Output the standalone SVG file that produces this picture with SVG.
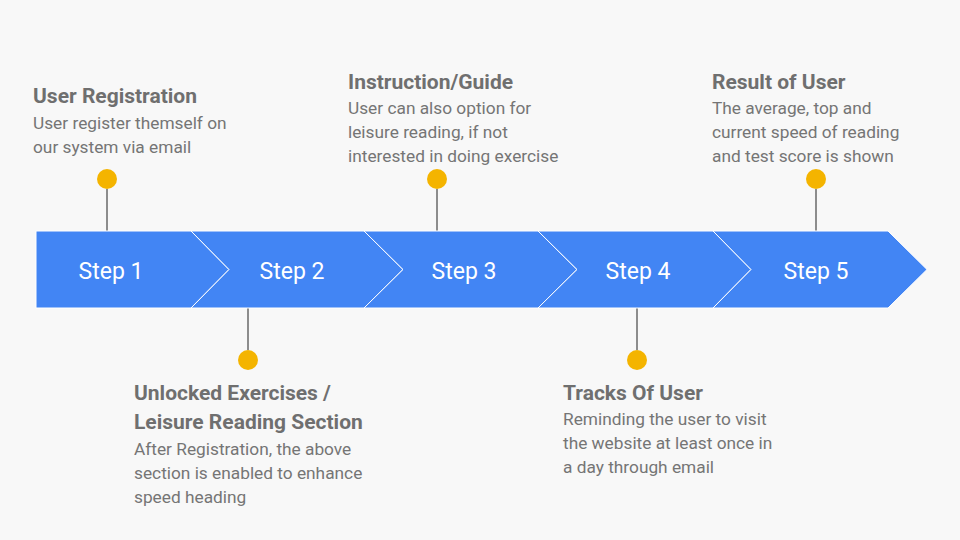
<svg xmlns="http://www.w3.org/2000/svg" width="960" height="540" viewBox="0 0 960 540">
<style>
.bg{fill:#f8f8f8}
.seg{fill:#4285f4;stroke:#ffffff;stroke-width:1}
.step{font-family:Roboto,"Liberation Sans",sans-serif;font-size:23px;fill:#ffffff;text-anchor:middle}
.title{font-family:Roboto,"Liberation Sans",sans-serif;font-size:21px;font-weight:bold;fill:#6f6f6f}
.body{font-family:Roboto,"Liberation Sans",sans-serif;font-size:17.3px;fill:#757575}
.dot{fill:#f4b400}
.conn{stroke:#222222;stroke-width:1;fill:none}
</style>
<rect class="bg" x="0" y="0" width="960" height="540"/>
<g id="connectors">
<line class="conn" x1="107" y1="189" x2="107" y2="231"/>
<line class="conn" x1="248" y1="308" x2="248" y2="350"/>
<line class="conn" x1="437" y1="189" x2="437" y2="231"/>
<line class="conn" x1="637" y1="308" x2="637" y2="350"/>
<line class="conn" x1="816" y1="189" x2="816" y2="231"/>
</g>
<g id="step1">
<polygon class="seg" points="36,231 191,231 229,269.5 191,308 36,308"/>
<text class="step" x="111" y="279">Step 1</text>
</g>
<g id="step2">
<polygon class="seg" points="191,231 364,231 403,269.5 364,308 191,308 229,269.5"/>
<text class="step" x="292" y="279">Step 2</text>
</g>
<g id="step3">
<polygon class="seg" points="364,231 538,231 577,269.5 538,308 364,308 403,269.5"/>
<text class="step" x="464" y="279">Step 3</text>
</g>
<g id="step4">
<polygon class="seg" points="538,231 713,231 751,269.5 713,308 538,308 577,269.5"/>
<text class="step" x="638" y="279">Step 4</text>
</g>
<g id="step5">
<polygon class="seg" points="713,231 888,231 927,269.5 888,308 713,308 751,269.5"/>
<text class="step" x="816" y="279">Step 5</text>
</g>
<g id="info1">
<circle class="dot" cx="107" cy="179" r="10"/>
<text class="title" x="33" y="103">User Registration</text>
<text class="body" x="33" y="129">User register themself on</text>
<text class="body" x="33" y="153">our system via email</text>
</g>
<g id="info2">
<circle class="dot" cx="248" cy="360" r="10"/>
<text class="title" x="134" y="400">Unlocked Exercises /</text>
<text class="title" x="134" y="429">Leisure Reading Section</text>
<text class="body" x="134" y="455">After Registration, the above</text>
<text class="body" x="134" y="479">section is enabled to enhance</text>
<text class="body" x="134" y="503">speed heading</text>
</g>
<g id="info3">
<circle class="dot" cx="437" cy="179" r="10"/>
<text class="title" x="348" y="89">Instruction/Guide</text>
<text class="body" x="348" y="114">User can also option for</text>
<text class="body" x="348" y="138">leisure reading, if not</text>
<text class="body" x="348" y="162">interested in doing exercise</text>
</g>
<g id="info4">
<circle class="dot" cx="637" cy="360" r="10"/>
<text class="title" x="563" y="400">Tracks Of User</text>
<text class="body" x="563" y="425">Reminding the user to visit</text>
<text class="body" x="563" y="449">the website at least once in</text>
<text class="body" x="563" y="473">a day through email</text>
</g>
<g id="info5">
<circle class="dot" cx="816" cy="179" r="10"/>
<text class="title" x="712" y="89">Result of User</text>
<text class="body" x="712" y="114">The average, top and</text>
<text class="body" x="712" y="138">current speed of reading</text>
<text class="body" x="712" y="162">and test score is shown</text>
</g>
</svg>
